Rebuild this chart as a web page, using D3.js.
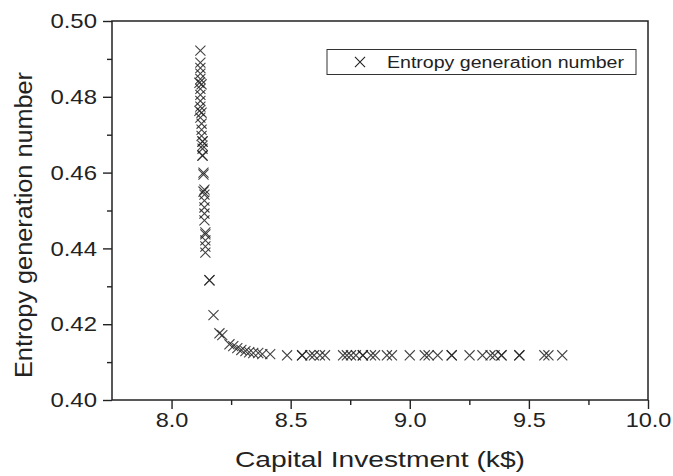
<!DOCTYPE html>
<html>
<head>
<meta charset="utf-8">
<script src="https://cdn.jsdelivr.net/npm/d3@7"></script>
<style>
  body { margin: 0; background: #fff; }
  svg { display: block; }
</style>
</head>
<body>
<script>
// chart size = browser window
const width = 673;
const height = 476;

// data: capital investment (k$) vs entropy generation number
const capitalInvestment = [
  8.121, 8.121, 8.121, 8.121, 8.121, 8.117, 8.126, 8.121, 8.121, 8.121,
  8.121, 8.117, 8.126, 8.121, 8.126, 8.126, 8.126, 8.130, 8.130, 8.130,
  8.130, 8.130, 8.130, 8.134, 8.134, 8.138, 8.134, 8.138, 8.138, 8.138,
  8.138, 8.138, 8.142, 8.142, 8.142, 8.142, 8.142, 8.159, 8.159,
  8.176, 8.201, 8.213, 8.243, 8.259, 8.276, 8.293, 8.310, 8.326, 8.343,
  8.364, 8.381, 8.414, 8.485, 8.548, 8.548, 8.582, 8.598, 8.623, 8.644,
  8.720, 8.736, 8.753, 8.774, 8.803, 8.803, 8.837, 8.854, 8.904, 8.925,
  9.000, 9.063, 9.079, 9.117, 9.176, 9.176, 9.251, 9.305, 9.339, 9.356,
  9.385, 9.385, 9.460, 9.460, 9.565, 9.582, 9.640
];
const entropyNumber = [
  0.4922, 0.4890, 0.4876, 0.4861, 0.4847, 0.4837, 0.4833, 0.4821, 0.4805, 0.4789,
  0.4774, 0.4763, 0.4758, 0.4745, 0.4729, 0.4713, 0.4697, 0.4682, 0.4682, 0.4671,
  0.4663, 0.4645, 0.4645, 0.4600, 0.4595, 0.4555, 0.4550, 0.4542, 0.4526, 0.4508,
  0.4492, 0.4474, 0.4442, 0.4437, 0.4421, 0.4405, 0.4389, 0.4316, 0.4316,
  0.4224, 0.4176, 0.4171, 0.4147, 0.4142, 0.4137, 0.4132, 0.4129, 0.4126, 0.4124,
  0.4124, 0.4121, 0.4121, 0.4118, 0.4118, 0.4118, 0.4118, 0.4118, 0.4118, 0.4118,
  0.4118, 0.4118, 0.4118, 0.4118, 0.4118, 0.4118, 0.4118, 0.4118, 0.4118, 0.4118,
  0.4118, 0.4118, 0.4118, 0.4118, 0.4118, 0.4118, 0.4118, 0.4118, 0.4118, 0.4118,
  0.4118, 0.4118, 0.4118, 0.4118, 0.4118, 0.4118, 0.4118
];

const xTicks = [8.0, 8.5, 9.0, 9.5, 10.0];
const xMinorTicks = [8.25, 8.75, 9.25, 9.75];
const yTicks = [0.40, 0.42, 0.44, 0.46, 0.48, 0.50];
const yMinorTicks = [0.41, 0.43, 0.45, 0.47, 0.49];

const seriesName = "Entropy generation number";
const xTitle = "Capital Investment (k$)";
const yTitle = "Entropy generation number";

const font = '"Liberation Sans", Arial, sans-serif';
const ink = '#222';

// margins round the plot
let margin = {top: 21, right: 25, bottom: 76, left: 112};
let plotWidth = width - margin.left - margin.right;
let plotHeight = height - margin.top - margin.bottom;

let svg = d3.select('body')
    .append('svg')
    .attr('width', width)
    .attr('height', height)
    .style('background', '#fff');

let plot = svg.append('g')
    .attr('transform', `translate(${margin.left},${margin.top})`);

let xScale = d3.scaleLinear().domain([7.75, 10.0]).range([0, plotWidth]);
let yScale = d3.scaleLinear().domain([0.40, 0.50]).range([plotHeight, 0]);

// the original picture is a little wider than its font, stretch the text
function stretch(sel, k) {
    sel.each(function () {
        let len = this.getComputedTextLength();
        d3.select(this)
            .attr('textLength', len * k)
            .attr('lengthAdjust', 'spacingAndGlyphs');
    });
}

// x axis, major + minor
let xAxisG = plot.append('g')
    .attr('transform', `translate(0,${plotHeight})`)
    .call(d3.axisBottom(xScale).tickValues(xTicks).tickSizeInner(9).tickSizeOuter(0)
        .tickPadding(3).tickFormat(d3.format('.1f')));
plot.append('g')
    .attr('transform', `translate(0,${plotHeight})`)
    .call(d3.axisBottom(xScale).tickValues(xMinorTicks).tickSizeInner(5).tickSizeOuter(0)
        .tickFormat(''));

// y axis, major + minor
let yAxisG = plot.append('g')
    .call(d3.axisLeft(yScale).tickValues(yTicks).tickSizeInner(9).tickSizeOuter(0)
        .tickPadding(6).tickFormat(d3.format('.2f')));
plot.append('g')
    .call(d3.axisLeft(yScale).tickValues(yMinorTicks).tickSizeInner(5).tickSizeOuter(0)
        .tickFormat(''));

plot.selectAll('.domain').remove();
plot.selectAll('.tick line').attr('stroke', ink).attr('stroke-width', 1.4);
plot.selectAll('.tick text')
    .attr('fill', ink)
    .style('font-family', font)
    .style('font-size', '21px');
stretch(xAxisG.selectAll('.tick text'), 1.12);
stretch(yAxisG.selectAll('.tick text'), 1.14);

// frame
plot.append('rect')
    .attr('width', plotWidth)
    .attr('height', plotHeight)
    .attr('fill', 'none')
    .attr('stroke', ink)
    .attr('stroke-width', 1.5);

// points
let cross = d3.symbol().type(d3.symbolTimes).size(68);
plot.append('g')
    .selectAll('path')
    .data(d3.zip(capitalInvestment, entropyNumber))
    .join('path')
    .attr('d', cross)
    .attr('transform', d => `translate(${xScale(d[0])},${yScale(d[1])})`)
    .attr('fill', 'none')
    .attr('stroke', ink)
    .attr('stroke-width', 1.1)
    .attr('stroke-opacity', 0.85);

// legend
let legend = svg.append('g').attr('transform', 'translate(327,49.5)');
legend.append('rect')
    .attr('width', 309)
    .attr('height', 25)
    .attr('fill', '#fff')
    .attr('stroke', '#333')
    .attr('stroke-width', 1);
legend.append('path')
    .attr('d', cross)
    .attr('transform', 'translate(33,12.5)')
    .attr('fill', 'none')
    .attr('stroke', ink)
    .attr('stroke-width', 1.1);
let legendText = legend.append('text')
    .attr('x', 60)
    .attr('y', 18.5)
    .attr('fill', ink)
    .style('font-family', font)
    .style('font-size', '16px')
    .text(seriesName);
legendText.attr('textLength', 237).attr('lengthAdjust', 'spacingAndGlyphs');

// axis titles
svg.append('text')
    .attr('x', margin.left + plotWidth / 2)
    .attr('y', 467)
    .attr('text-anchor', 'middle')
    .attr('fill', ink)
    .style('font-family', font)
    .style('font-size', '22px')
    .attr('textLength', 290)
    .attr('lengthAdjust', 'spacingAndGlyphs')
    .text(xTitle);

svg.append('text')
    .attr('transform', 'translate(32,225) rotate(-90)')
    .attr('text-anchor', 'middle')
    .attr('fill', ink)
    .style('font-family', font)
    .style('font-size', '23px')
    .attr('textLength', 306)
    .attr('lengthAdjust', 'spacingAndGlyphs')
    .text(yTitle);
</script>
</body>
</html>
